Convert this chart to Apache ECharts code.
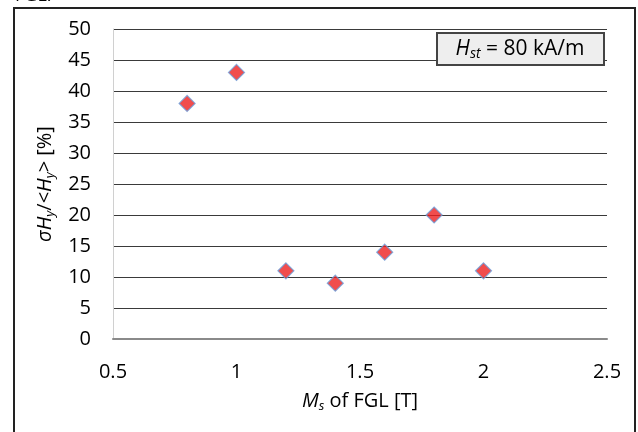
<!DOCTYPE html>
<html><head><meta charset="utf-8">
<script src="https://cdn.jsdelivr.net/npm/echarts@6/dist/echarts.min.js"></script>
<style>html,body{margin:0;padding:0;background:#fff}#c{width:638px;height:432px}</style>
</head><body><div id="c"></div>
<script>
var msValues = [0.8, 1.0, 1.2, 1.4, 1.6, 1.8, 2.0];
var sigmaValues = [38, 43, 11, 9, 14, 20, 11];
var xTicks = [0.5, 1, 1.5, 2, 2.5];
var yTicks = [0, 5, 10, 15, 20, 25, 30, 35, 40, 45, 50];

var font = 'Open Sans';
var fs = 20;
var chart = echarts.init(document.getElementById('c'), null, {renderer: 'canvas'});
var points = msValues.map(function (x, i) { return [x, sigmaValues[i]]; });
var richName = {
  i: {fontStyle: 'italic', fontSize: fs, fontFamily: font, color: '#000'},
  n: {fontSize: fs, fontFamily: font, color: '#000'},
  sub: {fontStyle: 'italic', fontSize: 13, verticalAlign: 'bottom', padding: [11, 0, 0, 0], fontFamily: font, color: '#000'}
};
chart.setOption({
  animation: false,
  backgroundColor: '#fff',
  textStyle: {fontFamily: font},
  grid: {left: 113, right: 31, top: 29, bottom: 93, containLabel: false},
  xAxis: {
    type: 'value', min: xTicks[0], max: xTicks[xTicks.length - 1], interval: 0.5,
    axisLine: {show: true, lineStyle: {color: '#8a8a8a', width: 2}},
    axisTick: {show: false},
    splitLine: {show: false},
    axisLabel: {color: '#000', fontSize: fs, margin: 23, fontFamily: font},
    name: '{i|M}{sub|s}{n| of FGL [T]}',
    nameLocation: 'middle', nameGap: 50,
    nameTextStyle: {color: '#000', fontSize: fs, fontFamily: font, rich: richName}
  },
  yAxis: {
    type: 'value', min: yTicks[0], max: yTicks[yTicks.length - 1], interval: 5,
    axisLine: {show: true, lineStyle: {color: '#d0d0d0', width: 1}},
    axisTick: {show: false},
    splitLine: {show: true, lineStyle: {color: '#3a3a3a', width: 1}},
    axisLabel: {color: '#000', fontSize: fs, margin: 22, fontFamily: font},
    name: '{i|σH}{sub|y}{n|/<}{i|H}{sub|y}{n|> [%]}',
    nameLocation: 'middle', nameGap: 56, nameRotate: 90,
    nameTextStyle: {color: '#000', fontSize: fs, fontFamily: font, rich: richName}
  },
  series: [{
    type: 'scatter',
    data: points,
    symbol: 'diamond',
    symbolSize: 16,
    itemStyle: {color: '#ee2020', borderColor: '#6a9fdc', borderWidth: 1.2},
    z: 5
  }],
  graphic: [
    {type: 'rect', shape: {x: 14, y: 8, width: 621, height: 440},
     style: {fill: 'none', stroke: '#222', lineWidth: 2}, silent: true, z: 0},
    {type: 'text', left: 15, top: -13,
     style: {text: 'FGL.', font: '18px "Open Sans"', fill: '#000'}},
    {type: 'rect', shape: {x: 437, y: 33, width: 167, height: 32},
     style: {fill: '#eeeeee', stroke: '#444', lineWidth: 2}, z: 10},
    {type: 'text', x: 520, y: 49, z: 11,
     style: {
       text: '{i|H}{sub|st}{n| = 80 kA/m}',
       align: 'center', verticalAlign: 'middle',
       rich: {
         i: {fontStyle: 'italic', fontSize: 21, fontFamily: font, fill: '#000'},
         sub: {fontStyle: 'italic', fontSize: 14, fontFamily: font, fill: '#000', verticalAlign: 'bottom', padding: [11, 0, 0, 0]},
         n: {fontSize: 21, fontFamily: font, fill: '#000'}
       }
     }}
  ]
});
</script></body></html>
